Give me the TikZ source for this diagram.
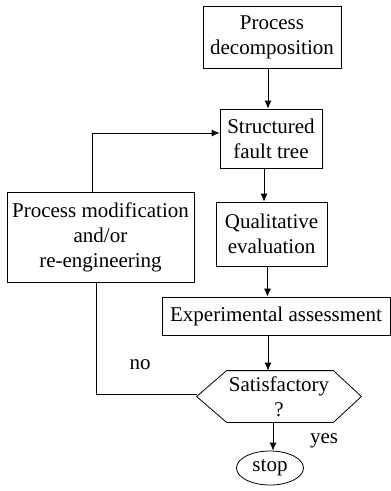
\documentclass[tikz,border=0pt]{standalone}
\usepackage{fontspec}
\setmainfont{Liberation Serif}
\usetikzlibrary{arrows.meta}
\usetikzlibrary{shapes.geometric}

\begin{document}
\begin{tikzpicture}[x=1pt,y=-1pt,->,>={Latex[length=8pt,width=7pt]},line width=0.8pt,
			every node/.style={font=\fontsize{21}{25}\selectfont},
			box node/.style={rectangle,draw,align=center,inner sep=0pt},
			test node/.style={rectangle,inner sep=0pt,
				minimum width=164pt,minimum height=51pt,align=center},
			stop node/.style={ellipse,draw,inner sep=0pt,minimum width=67pt,minimum height=34pt}]
			
			\useasboundingbox (0,0) rectangle (391,491);
			
			\node[box node,minimum width=138pt,minimum height=62pt] (PD) at (272,37) {Process\\decomposition};
			\node[box node,minimum width=102pt,minimum height=59pt] (SFT) at (271,138.5) {Structured\\fault tree};
			\node[box node,minimum width=187pt,minimum height=90pt] (PM) at (100.5,237) {Process modification\\and/or\\re-engineering};
			\node[box node,minimum width=111pt,minimum height=64pt] (QE) at (271.5,234) {Qualitative\\evaluation};
			\node[box node,minimum width=228pt,minimum height=38pt] (EA) at (276,316) {Experimental assessment};
			\node[test node] (SAT) at (279,396.5) {Satisfactory\\?};
			\node[stop node] (STOP) at (270,468) {stop};
			
			% hexagon round the test
			\draw[-] (SAT.west) -- ([xshift=30pt]SAT.north west) -- ([xshift=-28pt]SAT.north east)
				-- (SAT.east) -- ([xshift=-28pt]SAT.south east) -- ([xshift=30pt]SAT.south west) -- cycle;
			
			\node (no) at (140,365) {no};
			\node (yes) at (324,441) {yes};
			
			\draw ([xshift=-4pt]PD.south) -- ([xshift=-4pt]PD.south |- SFT.north);
			\draw ([xshift=-7pt]SFT.south) -- ([xshift=-7pt]SFT.south |- QE.north);
			\draw ([xshift=-4pt]QE.south) -- ([xshift=-4pt]QE.south |- EA.north);
			\draw ([xshift=-8pt]EA.south) -- ([xshift=-8pt]EA.south |- SAT.north);
			\draw ([xshift=3pt]STOP.north |- SAT.south) -- ([xshift=3pt]STOP.north);
			\draw ([xshift=-8.5pt]PM.north) |- ([yshift=5.5pt]SFT.west);
			\draw[-] ([xshift=-4.5pt]PM.south) |- ([yshift=2.5pt]SAT.west);
		\end{tikzpicture}
\end{document}
